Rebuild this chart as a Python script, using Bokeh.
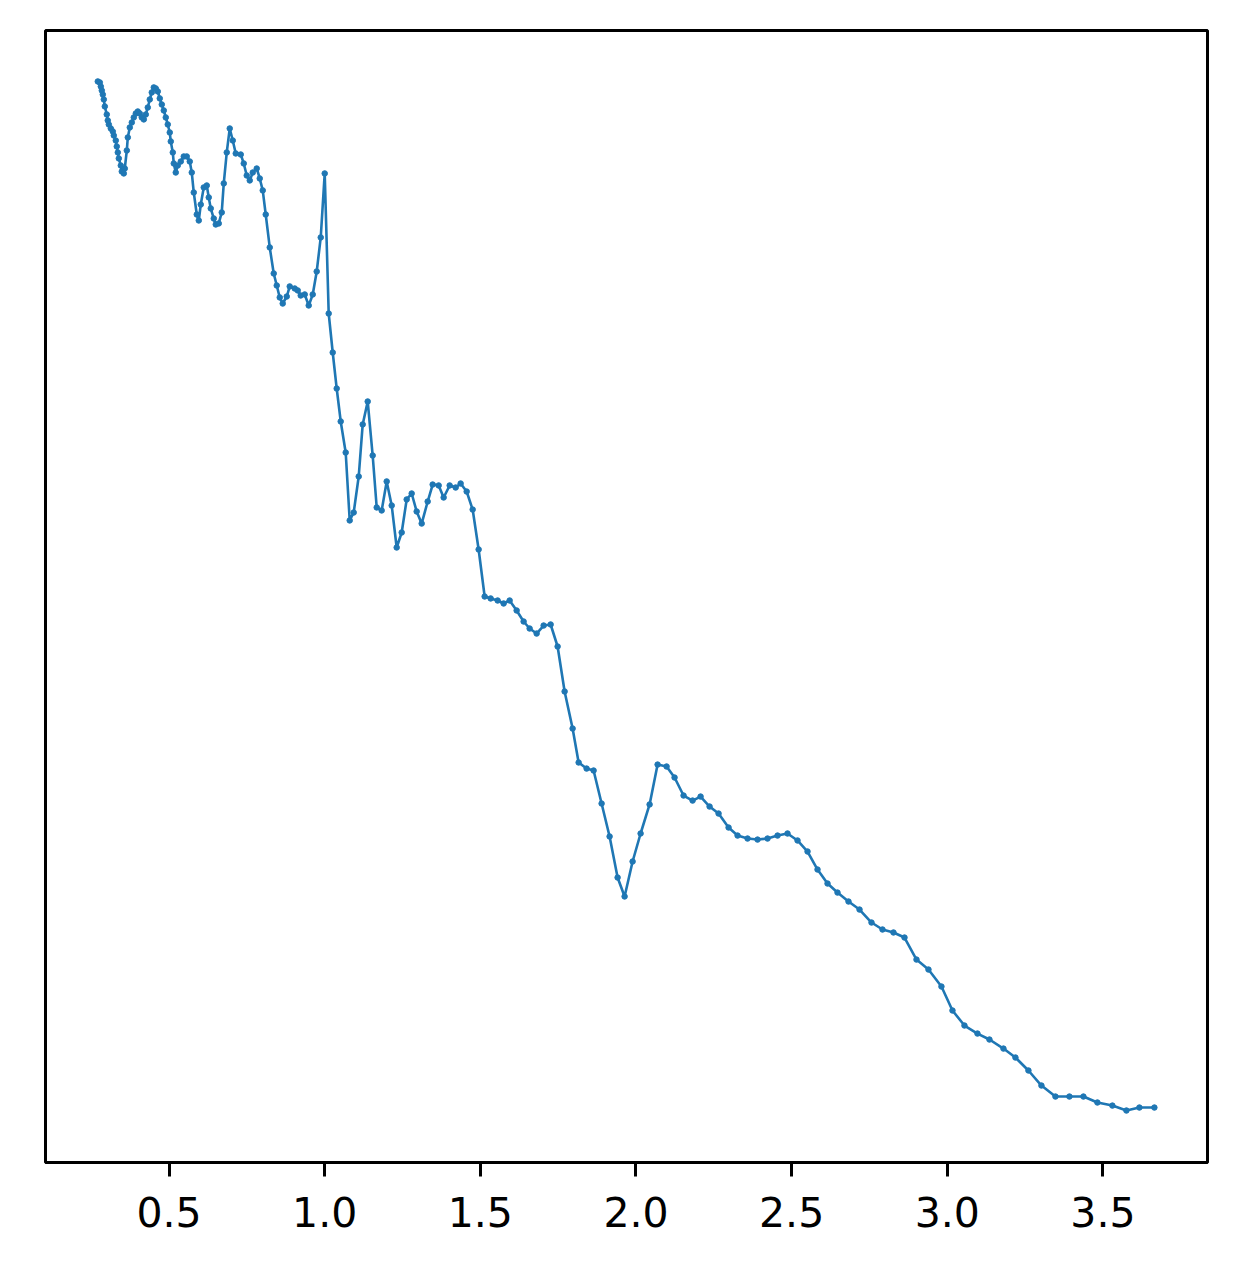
from bokeh.plotting import figure
from bokeh.models import Range1d, FixedTicker, PrintfTickFormatter
from bokeh.embed import file_html
from bokeh.resources import INLINE

x_vals = [
    0.2710, 0.2775, 0.2807, 0.2839, 0.2871, 0.2903, 0.2935, 0.2999, 0.3031, 0.3064,
    0.3128, 0.3192, 0.3224, 0.3288, 0.3320, 0.3353, 0.3385, 0.3449, 0.3481, 0.3545,
    0.3577, 0.3642, 0.3674, 0.3738, 0.3802, 0.3866, 0.3931, 0.3995, 0.4059, 0.4123,
    0.4188, 0.4252, 0.4316, 0.4380, 0.4444, 0.4509, 0.4573, 0.4637, 0.4701, 0.4766,
    0.4830, 0.4894, 0.4958, 0.5022, 0.5055, 0.5119, 0.5151, 0.5215, 0.5279, 0.5376,
    0.5472, 0.5568, 0.5665, 0.5729, 0.5793, 0.5890, 0.5954, 0.6018, 0.6114, 0.6211,
    0.6275, 0.6339, 0.6436, 0.6500, 0.6596, 0.6692, 0.6757, 0.6853, 0.6949, 0.7046,
    0.7142, 0.7303, 0.7399, 0.7495, 0.7592, 0.7688, 0.7816, 0.7913, 0.8009, 0.8105,
    0.8234, 0.8362, 0.8459, 0.8555, 0.8651, 0.8780, 0.8876, 0.9037, 0.9133, 0.9229,
    0.9358, 0.9486, 0.9615, 0.9743, 0.9872, 1.0000, 1.0128, 1.0257, 1.0385, 1.0514,
    1.0674, 1.0803, 1.0931, 1.1092, 1.1220, 1.1381, 1.1541, 1.1670, 1.1830, 1.1991,
    1.2152, 1.2312, 1.2473, 1.2633, 1.2794, 1.2954, 1.3115, 1.3308, 1.3468, 1.3661,
    1.3821, 1.4014, 1.4207, 1.4367, 1.4560, 1.4753, 1.4945, 1.5138, 1.5331, 1.5555,
    1.5748, 1.5941, 1.6166, 1.6390, 1.6583, 1.6808, 1.7033, 1.7258, 1.7482, 1.7707,
    1.7964, 1.8157, 1.8413, 1.8638, 1.8895, 1.9152, 1.9409, 1.9634, 1.9891, 2.0148,
    2.0437, 2.0694, 2.0983, 2.1239, 2.1528, 2.1818, 2.2075, 2.2364, 2.2653, 2.2974,
    2.3263, 2.3584, 2.3905, 2.4226, 2.4547, 2.4868, 2.5189, 2.5511, 2.5832, 2.6153,
    2.6474, 2.6827, 2.7181, 2.7566, 2.7919, 2.8272, 2.8626, 2.9011, 2.9396, 2.9813,
    3.0167, 3.0552, 3.0970, 3.1355, 3.1805, 3.2190, 3.2607, 3.3025, 3.3475, 3.3924,
    3.4374, 3.4823, 3.5305, 3.5755, 3.6172, 3.6654,
]

y_vals = [
    100.05, 99.95, 99.56, 99.17, 98.78, 98.30, 97.62, 96.84, 96.26, 95.87,
    95.48, 95.19, 94.80, 94.31, 93.73, 93.15, 92.57, 91.88, 91.30, 91.11,
    91.59, 93.34, 94.61, 95.58, 96.06, 96.55, 96.94, 97.13, 96.94, 96.55,
    96.36, 96.84, 97.52, 98.30, 98.98, 99.47, 99.37, 99.08, 98.40, 97.81,
    97.23, 96.55, 95.87, 95.09, 94.22, 93.15, 92.08, 91.20, 91.88, 92.27,
    92.76, 92.76, 92.27, 91.20, 89.26, 87.12, 86.54, 88.09, 89.75, 89.94,
    88.78, 87.71, 86.73, 86.15, 86.25, 87.32, 90.14, 93.15, 95.48, 94.31,
    93.05, 92.95, 92.08, 90.91, 90.43, 91.20, 91.59, 90.62, 89.46, 87.12,
    83.92, 81.39, 80.22, 79.06, 78.47, 79.15, 80.13, 79.93, 79.74, 79.25,
    79.35, 78.28, 79.35, 81.58, 84.89, 91.11, 77.50, 73.71, 70.21, 67.01,
    63.99, 57.39, 58.16, 61.66, 66.72, 68.95, 63.70, 58.65, 58.36, 61.18,
    58.84, 54.76, 56.22, 59.43, 60.01, 58.26, 57.09, 59.23, 60.88, 60.79,
    59.62, 60.79, 60.59, 60.98, 60.20, 58.45, 54.57, 50.00, 49.81, 49.61,
    49.32, 49.61, 48.64, 47.57, 46.89, 46.40, 47.18, 47.28, 45.14, 40.77,
    37.17, 33.87, 33.28, 33.09, 29.88, 26.68, 22.69, 20.85, 24.25, 26.97,
    29.79, 33.67, 33.48, 32.41, 30.66, 30.17, 30.56, 29.59, 28.91, 27.55,
    26.77, 26.48, 26.38, 26.48, 26.77, 26.97, 26.29, 25.22, 23.47, 22.11,
    21.23, 20.36, 19.58, 18.32, 17.64, 17.35, 16.86, 14.72, 13.75, 12.10,
    9.77, 8.31, 7.53, 6.95, 6.07, 5.20, 3.94, 2.48, 1.41, 1.41,
    1.41, 0.83, 0.53, 0.05, 0.34, 0.34,
]

x_ticks = [0.5, 1.0, 1.5, 2.0, 2.5, 3.0, 3.5]

line_color = "#1f77b4"

p = figure(
    frame_width=1162, frame_height=1132,
    min_border_left=45, min_border_top=30, min_border_right=22, min_border_bottom=80,
    x_range=Range1d(0.103, 3.836), y_range=Range1d(-5.0, 105.0),
    y_axis_location=None,
    output_backend="svg", toolbar_location=None,
)

p.line(x_vals, y_vals, line_width=2.6, line_color=line_color)
p.scatter(x_vals, y_vals, size=5.5, fill_color=line_color, line_color=line_color)

p.xgrid.visible = False
p.ygrid.visible = False
p.outline_line_color = "black"
p.outline_line_width = 3
p.outline_line_alpha = 1.0
p.background_fill_color = "white"
p.border_fill_color = "white"

ax = p.xaxis[0]
ax.ticker = FixedTicker(ticks=x_ticks)
ax.formatter = PrintfTickFormatter(format="%.1f")
ax.axis_line_color = "black"
ax.axis_line_width = 3
ax.major_tick_line_color = "black"
ax.major_tick_line_width = 3
ax.major_tick_out = 14
ax.major_tick_in = 0
ax.minor_tick_line_color = None
ax.major_label_text_font = "DejaVu Sans"
ax.major_label_text_font_size = "41px"
ax.major_label_text_color = "black"
ax.major_label_standoff = 20

open("out.html", "w").write(file_html(p, INLINE))
